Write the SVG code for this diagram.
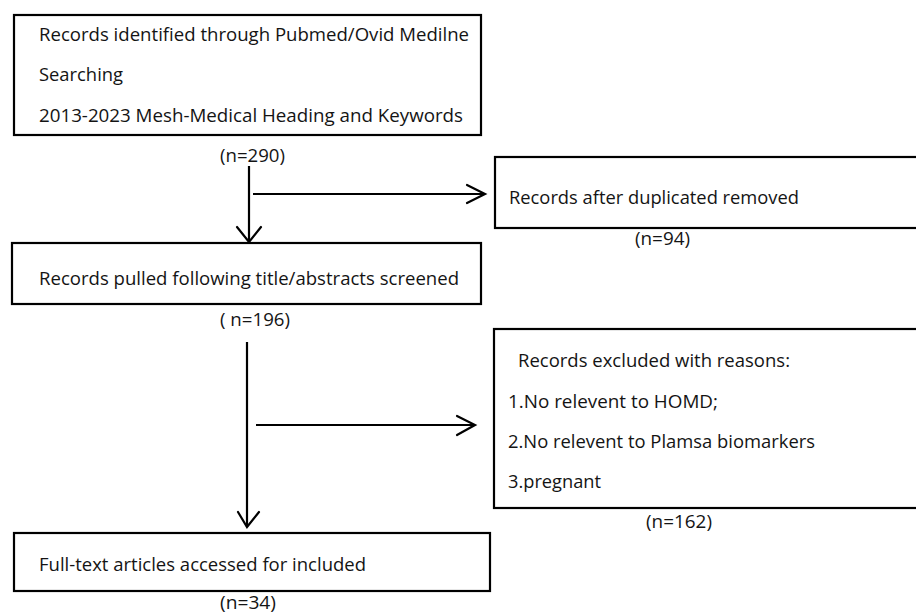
<svg xmlns="http://www.w3.org/2000/svg" width="916" height="615" viewBox="0 0 916 615">
<defs>
<style>
.box{fill:#fff;stroke:#000;stroke-width:2.2}
.t{font-family:"Open Sans","Liberation Sans",sans-serif;font-size:17.5px;fill:#141414}
.ln{stroke:#000;stroke-width:2.2;fill:none}
.ah{stroke:#000;stroke-width:2.2;fill:none;stroke-linecap:round;stroke-linejoin:miter}
</style>
</defs>
<rect width="916" height="615" fill="#fff"/>
<g id="n1">
<rect class="box" x="14" y="15" width="467" height="120"/>
<text class="t" x="39" y="41" textLength="430" lengthAdjust="spacingAndGlyphs">Records identified through Pubmed/Ovid Medilne</text>
<text class="t" x="39" y="81" textLength="84" lengthAdjust="spacingAndGlyphs">Searching</text>
<text class="t" x="39" y="122" textLength="424" lengthAdjust="spacingAndGlyphs">2013-2023 Mesh-Medical Heading and Keywords</text>
<text class="t" x="220" y="162" textLength="65" lengthAdjust="spacingAndGlyphs">(n=290)</text>
</g>
<g id="n2">
<rect class="box" x="495" y="157" width="430" height="71"/>
<text class="t" x="509" y="204" textLength="290" lengthAdjust="spacingAndGlyphs">Records after duplicated removed</text>
<text class="t" x="635" y="245" textLength="55" lengthAdjust="spacingAndGlyphs">(n=94)</text>
</g>
<g id="n3">
<rect class="box" x="12" y="243" width="469" height="61"/>
<text class="t" x="39" y="285" textLength="420" lengthAdjust="spacingAndGlyphs">Records pulled following title/abstracts screened</text>
<text class="t" x="220" y="326" textLength="70" lengthAdjust="spacingAndGlyphs">( n=196)</text>
</g>
<g id="n4">
<rect class="box" x="494" y="329" width="430" height="179"/>
<text class="t" x="518" y="367" textLength="272" lengthAdjust="spacingAndGlyphs">Records excluded with reasons:</text>
<text class="t" x="508" y="408" textLength="210" lengthAdjust="spacingAndGlyphs">1.No relevent to HOMD;</text>
<text class="t" x="508" y="448" textLength="307" lengthAdjust="spacingAndGlyphs">2.No relevent to Plamsa biomarkers</text>
<text class="t" x="508" y="488" textLength="93" lengthAdjust="spacingAndGlyphs">3.pregnant</text>
<text class="t" x="646" y="528" textLength="66" lengthAdjust="spacingAndGlyphs">(n=162)</text>
</g>
<g id="n5">
<rect class="box" x="14" y="533" width="476" height="58"/>
<text class="t" x="39" y="571" textLength="327" lengthAdjust="spacingAndGlyphs">Full-text articles accessed for included</text>
<text class="t" x="220" y="609" textLength="56" lengthAdjust="spacingAndGlyphs">(n=34)</text>
</g>
<g id="connectors">
<line class="ln" x1="249" y1="166" x2="249" y2="242"/>
<polyline class="ah" points="237,227 249,242 261,227"/>
<line class="ln" x1="253" y1="194" x2="485" y2="194"/>
<polyline class="ah" points="467,185 485,194 467,203"/>
<line class="ln" x1="247" y1="342" x2="247" y2="527"/>
<polyline class="ah" points="238,512 247,527 259,512"/>
<line class="ln" x1="256" y1="425" x2="475" y2="425"/>
<polyline class="ah" points="457,416 475,425 457,435"/>
</g>
</svg>
